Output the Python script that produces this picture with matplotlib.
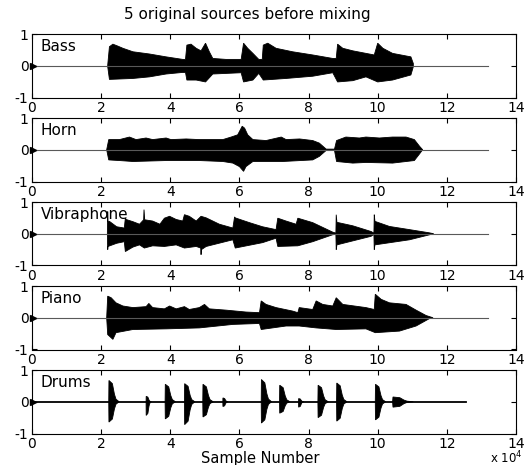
"""
Five source signals (bass, horn, vibraphone, piano, drums) drawn as
waveform envelopes on a shared sample axis, one panel per source.
"""

import numpy as np
import matplotlib
matplotlib.use('Agg')
import matplotlib.pyplot as plt

plt.rcParams['font.family'] = 'DejaVu Sans'
plt.rcParams['axes.unicode_minus'] = False

# ----------------------------
# Envelope data (sample number in units of 1e4, amplitude)
# ----------------------------
source_names = ['Bass', 'Horn', 'Vibraphone', 'Piano', 'Drums']
x_ticks = [0, 2, 4, 6, 8, 10, 12, 14]
y_ticks = [-1, 0, 1]
signal_end = [13.2, 13.2, 13.2, 13.2, 12.55]

bass_up_x = [2.19, 2.24, 2.34, 2.48, 2.63, 2.92, 3.40, 3.88, 4.36, 4.44, 4.48, 4.60,
             4.75, 4.89, 5.02, 5.13, 5.23, 5.61, 6.05, 6.12, 6.24, 6.39, 6.56, 6.66,
             6.69, 6.82, 7.06, 7.54, 8.12, 8.70, 8.80, 8.84, 8.99, 9.28, 9.66, 9.90,
             10.0, 10.15, 10.43, 10.96, 11.03]
bass_up_y = [0.02, 0.60, 0.68, 0.62, 0.55, 0.44, 0.37, 0.28, 0.20, 0.20, 0.65, 0.68,
             0.55, 0.47, 0.71, 0.44, 0.23, 0.20, 0.20, 0.71, 0.55, 0.39, 0.20, 0.20,
             0.65, 0.71, 0.55, 0.44, 0.34, 0.23, 0.23, 0.68, 0.55, 0.47, 0.39, 0.34,
             0.71, 0.55, 0.39, 0.28, 0.07]
bass_lo_x = [2.19, 2.24, 2.92, 3.40, 3.88, 4.36, 4.44, 4.48, 4.75, 5.02, 5.23, 6.05,
             6.12, 6.39, 6.56, 6.69, 7.35, 8.12, 8.70, 8.84, 9.28, 9.66, 10.0, 10.43,
             10.96, 11.03]
bass_lo_y = [-0.03, -0.43, -0.40, -0.35, -0.26, -0.21, -0.21, -0.45, -0.45, -0.51,
             -0.26, -0.22, -0.51, -0.45, -0.24, -0.45, -0.40, -0.33, -0.22, -0.51,
             -0.47, -0.35, -0.51, -0.45, -0.29, -0.03]

horn_up_x = [2.16, 2.22, 2.53, 2.82, 3.01, 3.30, 3.49, 3.88, 4.02, 4.46, 4.84, 5.52,
             5.76, 5.95, 6.08, 6.15, 6.24, 6.39, 6.77, 7.21, 7.35, 7.74, 8.12, 8.31,
             8.51, 8.75, 8.81, 9.08, 9.47, 9.66, 10.05, 10.43, 10.82, 11.06, 11.21, 11.30]
horn_up_y = [0.0, 0.32, 0.32, 0.40, 0.32, 0.37, 0.32, 0.37, 0.32, 0.34, 0.32, 0.32,
             0.40, 0.47, 0.74, 0.68, 0.47, 0.32, 0.29, 0.40, 0.32, 0.34, 0.29, 0.21,
             0.02, 0.02, 0.29, 0.40, 0.37, 0.40, 0.37, 0.40, 0.40, 0.32, 0.11, 0.0]
horn_lo_x = [2.16, 2.22, 2.53, 2.92, 3.88, 4.84, 5.52, 5.81, 6.00, 6.12, 6.19, 6.39,
             7.25, 8.12, 8.31, 8.51, 8.75, 8.81, 9.28, 9.66, 10.43, 11.06, 11.21, 11.30]
horn_lo_y = [0.0, -0.32, -0.34, -0.37, -0.34, -0.34, -0.37, -0.42, -0.53, -0.68,
             -0.53, -0.37, -0.37, -0.32, -0.21, -0.02, -0.02, -0.37, -0.42, -0.40,
             -0.42, -0.34, -0.13, 0.0]

vib_up_x = [2.18, 2.19, 2.20, 2.24, 2.45, 2.67, 2.70, 2.72, 2.92, 3.11, 3.23, 3.24,
            3.26, 3.49, 3.70, 3.83, 3.98, 4.17, 4.36, 4.41, 4.55, 4.75, 4.89, 5.04,
            5.42, 5.81, 5.86, 5.88, 6.29, 6.67, 7.06, 7.11, 7.35, 7.64, 7.69, 8.12,
            8.70, 8.79, 8.80, 8.82, 9.28, 9.81, 9.89, 9.90, 9.92, 10.34, 10.92, 11.49,
            11.62]
vib_up_y = [0.0, 0.70, 0.39, 0.39, 0.22, 0.18, 0.49, 0.45, 0.38, 0.30, 0.44, 0.76,
            0.44, 0.40, 0.30, 0.49, 0.55, 0.45, 0.40, 0.60, 0.55, 0.40, 0.55, 0.50,
            0.30, 0.18, 0.53, 0.50, 0.35, 0.22, 0.13, 0.49, 0.40, 0.30, 0.49, 0.35,
            0.05, 0.02, 0.60, 0.36, 0.25, 0.07, 0.02, 0.60, 0.39, 0.23, 0.13, 0.03,
            0.0]
vib_lo_x = [2.18, 2.19, 2.20, 2.45, 2.67, 2.70, 2.92, 3.11, 3.25, 3.49, 3.83, 4.17,
            4.41, 4.75, 4.88, 4.89, 4.90, 5.04, 5.81, 5.88, 6.67, 7.06, 7.11, 7.69,
            8.12, 8.70, 8.79, 8.80, 8.82, 9.81, 9.89, 9.90, 9.92, 10.92, 11.62]
vib_lo_y = [0.0, -0.50, -0.40, -0.30, -0.25, -0.56, -0.42, -0.35, -0.45, -0.38,
            -0.40, -0.35, -0.45, -0.40, -0.45, -0.66, -0.50, -0.40, -0.19, -0.45,
            -0.28, -0.14, -0.40, -0.38, -0.25, -0.03, -0.02, -0.50, -0.35, -0.08,
            -0.02, -0.50, -0.35, -0.19, 0.0]

piano_up_x = [2.16, 2.19, 2.29, 2.43, 2.63, 2.92, 3.30, 3.38, 3.49, 3.83, 3.98, 4.17,
              4.41, 4.55, 4.84, 4.99, 5.13, 5.61, 6.19, 6.58, 6.63, 6.77, 7.06, 7.54,
              7.69, 7.73, 8.12, 8.22, 8.41, 8.70, 8.80, 8.99, 9.66, 9.90, 9.93, 10.10,
              10.34, 10.82, 11.11, 11.40, 11.60]
piano_up_y = [0.0, 0.68, 0.63, 0.47, 0.37, 0.32, 0.35, 0.45, 0.32, 0.28, 0.37, 0.28,
              0.35, 0.26, 0.32, 0.42, 0.28, 0.24, 0.18, 0.16, 0.53, 0.42, 0.32, 0.21,
              0.16, 0.32, 0.26, 0.53, 0.42, 0.37, 0.63, 0.42, 0.32, 0.26, 0.74, 0.58,
              0.47, 0.42, 0.24, 0.07, 0.0]
piano_lo_x = [2.16, 2.19, 2.34, 2.43, 2.92, 3.88, 4.84, 5.81, 6.58, 6.63, 7.35, 7.73,
              8.22, 8.80, 9.66, 9.93, 10.63, 11.11, 11.49, 11.60]
piano_lo_y = [0.0, -0.53, -0.68, -0.47, -0.37, -0.35, -0.32, -0.21, -0.18, -0.37,
              -0.26, -0.26, -0.32, -0.37, -0.35, -0.47, -0.42, -0.26, -0.03, 0.0]

# drum hits: onset, positive peak, negative peak, ring length
drum_onset = [2.22, 3.30, 3.85, 4.41, 4.94, 5.52, 6.63, 7.16, 7.71, 8.27, 8.81, 9.93, 10.43]
drum_up = [0.67, 0.17, 0.55, 0.57, 0.55, 0.12, 0.70, 0.52, 0.10, 0.52, 0.59, 0.55, 0.15]
drum_down = [-0.64, -0.43, -0.54, -0.72, -0.48, -0.15, -0.67, -0.36, -0.17, -0.50,
             -0.61, -0.57, -0.17]
drum_length = [0.30, 0.15, 0.30, 0.30, 0.30, 0.15, 0.30, 0.30, 0.15, 0.30, 0.30, 0.30, 0.60]

envelopes = [
    (bass_up_x, bass_up_y, bass_lo_x, bass_lo_y),
    (horn_up_x, horn_up_y, horn_lo_x, horn_lo_y),
    (vib_up_x, vib_up_y, vib_lo_x, vib_lo_y),
    (piano_up_x, piano_up_y, piano_lo_x, piano_lo_y),
]

# decay profile of a single drum hit (time as fraction of ring length)
HIT_T = np.array([0.0, 0.02, 0.35, 0.55, 0.70, 1.0])
HIT_A = np.array([0.0, 1.0, 0.85, 0.35, 0.12, 0.0])


def draw_envelope(ax, up_x, up_y, lo_x, lo_y):
    xs = np.r_[up_x, lo_x[::-1]]
    ys = np.r_[up_y, lo_y[::-1]]
    ax.fill(xs, ys, facecolor='k', edgecolor='k', lw=0.6)


def draw_drums(ax):
    for t0, up, down, length in zip(drum_onset, drum_up, drum_down, drum_length):
        t = t0 + HIT_T * length
        xs = np.r_[t, t[::-1]]
        ys = np.r_[HIT_A * up, (HIT_A * down)[::-1]]
        ax.fill(xs, ys, facecolor='k', edgecolor='k', lw=0.6)


def style_axes(ax):
    ax.set_xlim(0, 14)
    ax.set_ylim(-1, 1)
    ax.set_xticks(x_ticks)
    ax.set_xticklabels([str(v) for v in x_ticks])
    ax.set_yticks(y_ticks)
    ax.set_yticklabels([str(v) for v in y_ticks])
    ax.tick_params(direction='in', top=True, right=True, length=3.5, width=0.8,
                   labelsize=10, pad=2.5, colors='k')
    for sp in ax.spines.values():
        sp.set_linewidth(0.8)
        sp.set_color('k')


# ----------------------------
# Figure
# ----------------------------
W, H = 526, 465
fig = plt.figure(figsize=(W / 100, H / 100), dpi=100)

ax_left = 32 / W
ax_width = 484 / W
ax_height = 63.5 / H

for k, name in enumerate(source_names):
    bottom_px = 97.5 + 84 * k
    ax = fig.add_axes([ax_left, 1 - bottom_px / H, ax_width, ax_height])

    if k < 4:
        ax.plot([0, signal_end[k]], [0, 0], color='0.35', lw=0.8)
        draw_envelope(ax, *envelopes[k])
    else:
        ax.plot([0, signal_end[k]], [0, 0], color='k', lw=1.3)
        draw_drums(ax)
    ax.plot([0.04], [0], marker='>', color='k', markersize=4, clip_on=False)

    ax.text(0.25, 0.6, name, fontsize=11, ha='left', va='center')
    style_axes(ax)

fig.text(247 / W, 1 - 15 / H, '5 original sources before mixing',
         fontsize=11, ha='center', va='center')
fig.text(260 / W, 1 - 458.5 / H, 'Sample Number', fontsize=10.5, ha='center', va='center')
fig.text(490 / W, 1 - 458 / H, r'x 10$^{\mathregular{4}}$', fontsize=8.5,
         ha='left', va='center')

fig.savefig('out.png', dpi=100, facecolor='white')
